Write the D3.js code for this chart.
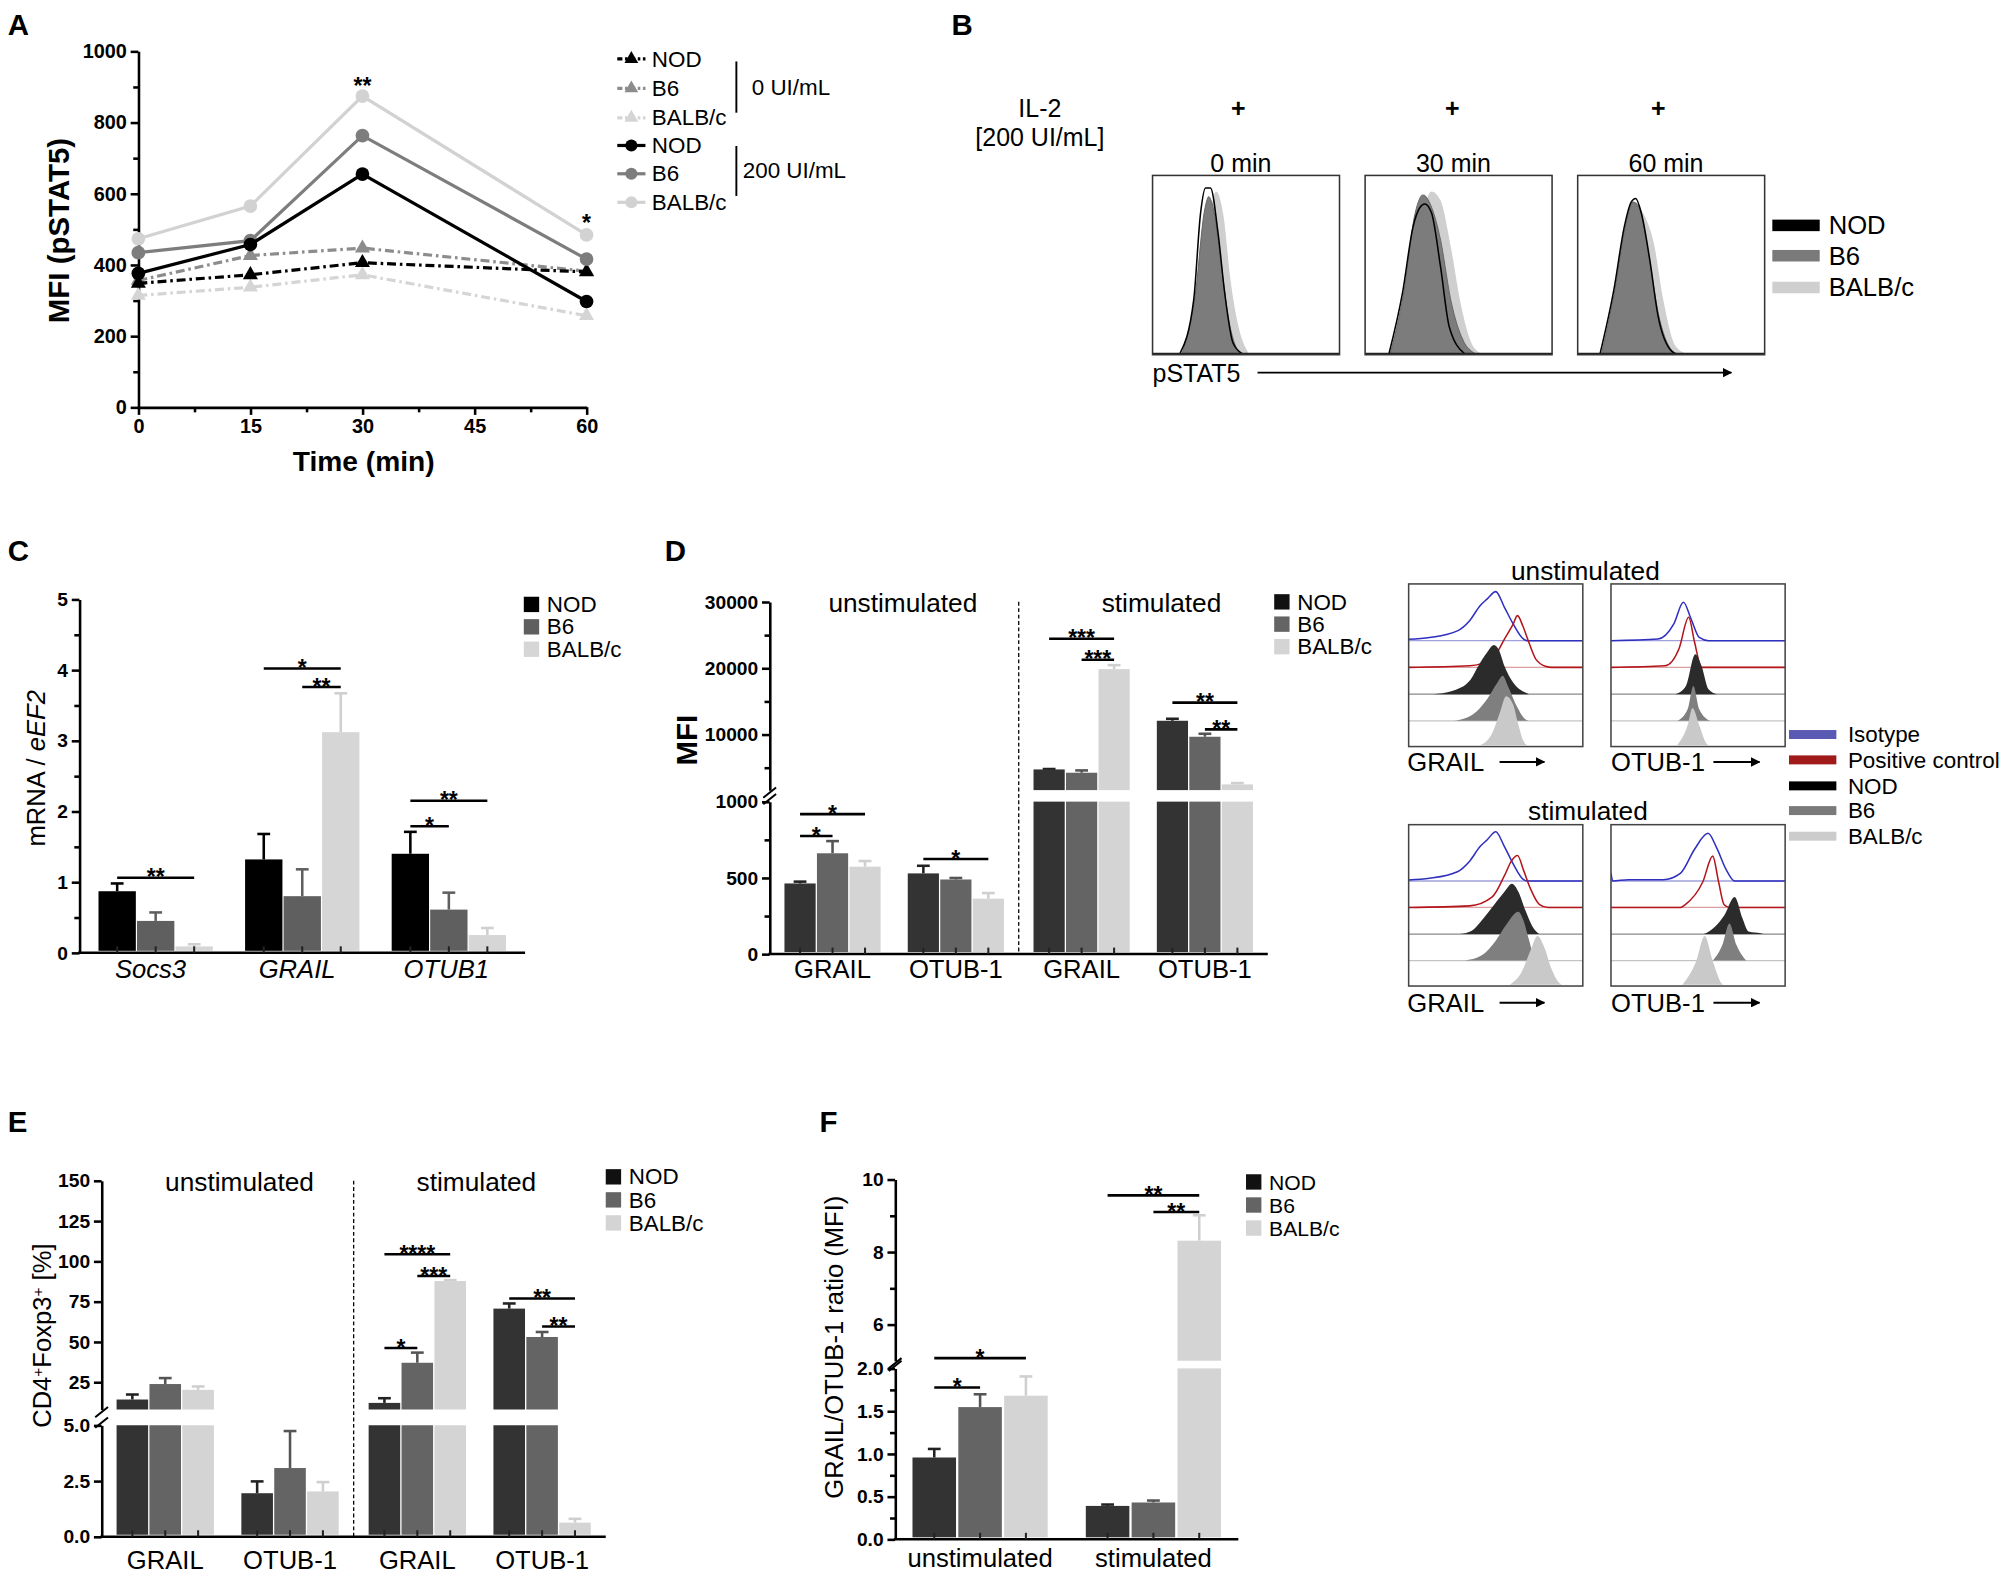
<!DOCTYPE html>
<html>
<head>
<meta charset="utf-8">
<script src="https://cdn.jsdelivr.net/npm/d3@7"></script>
<style>
  body { margin: 0; background: #fff; }
  svg { display: block; font-family: "Liberation Sans", Arial, sans-serif; }
</style>
</head>
<body>
<svg id="fig"></svg>
<script>
// ---------- dati ----------
const strains = ['NOD', 'B6', 'BALB/c'];

// pannello A: MFI pSTAT5 nel tempo
const aTimes = [0, 15, 30, 60];
const aNod0 = [348, 372, 406, 380];
const aB60 = [356, 426, 447, 382];
const aBalb0 = [314, 337, 372, 257];
const aNod200 = [376, 457, 655, 297];
const aB6200 = [434, 468, 763, 416];
const aBalb200 = [473, 565, 874, 484];
const aYTicks = [0, 200, 400, 600, 800, 1000];
const aXTicks = [0, 15, 30, 45, 60];

// pannello B: istogrammi pSTAT5 [canale, conta %]
const bTimes = ['0 min', '30 min', '60 min'];
const bNod0 = [[14.7, 0], [22, 30], [25.7, 79], [28.3, 93], [31, 93], [35, 68], [38.6, 34], [43, 6], [47.8, 0]];
const bB60 = [[15.8, 0], [23, 34], [27.6, 79], [30, 88], [33, 79], [36.8, 49], [40.4, 21], [46, 1], [47, 0]];
const bBalb0 = [[17, 0], [25.7, 40], [30.5, 77], [34, 91], [38, 77], [41.5, 43], [46, 15], [51.5, 0]];
const bNod30 = [[12.8, 0], [20, 34], [25.6, 71], [29.3, 82], [31.9, 84], [35.5, 79], [40.3, 49], [45, 15], [53, 0]];
const bB630 = [[13.5, 0], [21, 36], [26.4, 77], [31, 89], [34.8, 84], [40.3, 64], [45.8, 30], [53, 6], [58.6, 0]];
const bBalb30 = [[15.7, 0], [23.8, 38], [29.3, 71], [35.5, 91], [40.3, 86], [45.8, 60], [51.3, 27], [56.8, 6], [62, 0]];
const bNod60 = [[12, 0], [19.4, 36], [24.9, 71], [28.6, 85], [31, 87], [34, 79], [38.5, 53], [43, 21], [50.5, 1], [52, 0]];
const bB660 = [[12.8, 0], [20, 36], [24.9, 68], [29.7, 85], [33.3, 81], [37.7, 57], [43, 23], [50.5, 1.5], [53, 0]];
const bBalb60 = [[14, 0], [21, 38], [26.7, 70], [31, 83], [35.9, 77], [40.7, 62], [45.8, 30], [52.4, 4], [58, 0]];

// pannello C: mRNA / eEF2
const cGenes = ['Socs3', 'GRAIL', 'OTUB1'];
const cNod = [0.87, 1.32, 1.40];
const cNodErr = [0.11, 0.36, 0.31];
const cB6 = [0.45, 0.80, 0.61];
const cB6Err = [0.12, 0.38, 0.24];
const cBalb = [0.09, 3.12, 0.25];
const cBalbErr = [0.03, 0.55, 0.10];
const cSig = [[0, 0, 2, 1.06, '**'], [1, 0, 2, 4.02, '*'], [1, 1, 2, 3.76, '**'], [2, 0, 2, 2.15, '**'], [2, 0, 1, 1.79, '*']];

// pannello D: MFI (unstim GRAIL, unstim OTUB-1, stim GRAIL, stim OTUB-1)
const conds = ['unstimulated', 'stimulated'];
const markers = ['GRAIL', 'OTUB-1'];
const dNod = [463, 529, 4720, 12060];
const dNodErr = [12, 50, 60, 300];
const dB6 = [661, 489, 4220, 9650];
const dB6Err = [80, 10, 350, 450];
const dBalb = [573, 363, 19850, 2460];
const dBalbErr = [37, 37, 600, 200];
const dSig = [[0, 0, 2, 918, '*'], [0, 0, 1, 774, '*'], [1, 0, 2, 624, '*'], [2, 0, 2, 24440, '***'], [2, 1, 2, 21260, '***'], [3, 0, 2, 14800, '**'], [3, 1, 2, 10760, '**']];

// pannello D destra: istogrammi sovrapposti [canale, altezza in tracce]
const hLegend = ['Isotype', 'Positive control', 'NOD', 'B6', 'BALB/c'];
const hUnGrailIso = [[0, 0.05], [12, 0.12], [28, 0.37], [35, 0.75], [41, 1.31], [45, 1.56], [50, 1.84], [55, 1.25], [60, 0.63], [66, 0.06], [68, 0], [100, 0]];
const hUnGrailPos = [[0, 0], [35, 0.06], [48, 0.31], [55, 1.06], [60, 1.62], [62.5, 1.94], [65.5, 1.56], [69, 0.94], [73, 0.31], [79, 0.03], [82, 0], [100, 0]];
const hUnGrailNod = [[14, 0], [25, 0.12], [35, 0.5], [40, 1.06], [45, 1.56], [49, 1.84], [52, 1.63], [55, 1.06], [60, 0.44], [67, 0.06], [69, 0]];
const hUnGrailB6 = [[26, 0], [37, 0.25], [45, 0.81], [51, 1.44], [54, 1.69], [57, 1.31], [62, 0.56], [67, 0.06], [69, 0]];
const hUnGrailBalb = [[41, 0], [48, 0.46], [52, 1.15], [56, 1.84], [60, 1.53], [63, 0.77], [66, 0.15], [68, 0]];
const hUnOtubIso = [[0, 0], [27, 0.06], [36, 0.62], [41.6, 1.44], [46, 0.81], [50.7, 0.12], [56, 0], [100, 0]];
const hUnOtubPos = [[0, 0], [31, 0.06], [39, 0.69], [44.6, 1.88], [48, 0.94], [52, 0], [100, 0]];
const hUnOtubNod = [[37, 0], [43, 0.31], [48.4, 1.5], [52, 1.06], [56, 0.19], [61, 0]];
const hUnOtubB6 = [[38, 0], [44, 0.44], [47.3, 1.31], [50.7, 0.44], [57, 0]];
const hUnOtubBalb = [[38, 0], [44, 0.75], [46.8, 1.4], [50.7, 0.75], [55, 0.05], [56, 0]];
const hStGrailIso = [[0, 0.04], [12, 0.1], [28, 0.35], [35, 0.75], [41, 1.3], [45, 1.55], [50, 1.86], [55, 1.3], [60, 0.65], [66, 0.05], [68, 0], [100, 0]];
const hStGrailPos = [[0, 0], [35, 0.06], [48, 0.4], [55, 1.2], [59, 1.75], [62.5, 1.96], [66, 1.4], [70, 0.7], [75, 0.12], [80, 0], [100, 0]];
const hStGrailNod = [[29, 0], [36, 0.12], [43, 0.6], [49, 1.1], [55, 1.6], [59.3, 1.9], [63, 1.6], [67, 0.9], [71, 0.3], [75, 0]];
const hStGrailB6 = [[32, 0], [42, 0.2], [50, 0.75], [56, 1.35], [63, 1.84], [66, 1.5], [69, 0.8], [72, 0.15], [74, 0]];
const hStGrailBalb = [[58, 0], [65, 0.5], [70, 1.3], [74, 1.84], [78, 1.4], [82, 0.6], [86, 0.1], [88, 0]];
const hStOtubIso = [[0, 0.3], [1, 0], [10, 0.05], [30, 0.05], [40, 0.3], [48, 1.2], [55.7, 1.8], [60.7, 1.25], [66, 0.45], [71, 0], [100, 0]];
const hStOtubPos = [[0, 0], [40, 0], [42.5, 0.1], [52.7, 0.96], [58.4, 1.94], [61.8, 0.96], [65, 0.1], [68, 0], [100, 0]];
const hStOtubNod = [[53, 0], [55, 0.05], [65, 0.7], [71, 1.4], [75.5, 0.6], [79, 0.1], [86, 0.03], [88, 0]];
const hStOtubB6 = [[58.4, 0], [64, 0.6], [68, 1.4], [72, 0.6], [77.7, 0]];
const hStOtubBalb = [[41, 0], [49, 0.9], [53.8, 1.84], [58.4, 0.9], [64, 0.02], [64.5, 0]];

// pannello E: CD4+Foxp3+ [%]
const eNod = [14.2, 1.95, 12.1, 70.6];
const eNodErr = [3.1, 0.53, 2.9, 3.2];
const eB6 = [23.8, 3.08, 37.0, 53.0];
const eB6Err = [3.7, 1.66, 6.3, 3.1];
const eBalb = [20.2, 2.03, 87.7, 0.63];
const eBalbErr = [2.1, 0.42, 0.6, 0.17];
const eSig = [[2, 0, 2, 104.3, '****'], [2, 1, 2, 90.8, '***'], [2, 0, 1, 46.2, '*'], [3, 0, 2, 76.9, '**'], [3, 1, 2, 59.5, '**']];

// pannello F: rapporto GRAIL/OTUB-1
const fNod = [0.957, 0.39];
const fNodErr = [0.10, 0.016];
const fB6 = [1.547, 0.43];
const fB6Err = [0.15, 0.023];
const fBalb = [1.68, 8.31];
const fBalbErr = [0.226, 0.70];
const fSig = [[0, 0, 2, 2.12, '*'], [0, 0, 1, 1.777, '*'], [1, 0, 2, 9.56, '**'], [1, 1, 2, 9.10, '**']];

// ---------- struttura ----------
const svg = d3.select('#fig')
  .attr('width', 2008)
  .attr('height', 1577)
  .attr('viewBox', '0 0 1568 1231.5');

svg.append('defs').append('marker')
  .attr('id', 'arr')
  .attr('viewBox', '0 0 10 10')
  .attr('refX', 9).attr('refY', 5)
  .attr('markerWidth', 5).attr('markerHeight', 5)
  .attr('orient', 'auto')
  .append('path').attr('d', 'M0,0 L10,5 L0,10 z').attr('fill', '#000');

function text(x, y, s, size, opt) {
  opt = opt || {};
  return svg.append('text')
    .attr('x', x).attr('y', y)
    .attr('text-anchor', opt.anchor || 'start')
    .style('font-size', size + 'px')
    .style('font-weight', opt.bold ? 'bold' : 'normal')
    .style('font-style', opt.italic ? 'italic' : null)
    .attr('fill', opt.fill || '#000')
    .text(s);
}

function styleAxis(g, size) {
  g.attr('font-family', null).attr('font-size', null);
  g.selectAll('.domain').attr('stroke', '#000').attr('stroke-width', 2);
  g.selectAll('.tick line').attr('stroke', '#000').attr('stroke-width', 2);
  g.selectAll('.tick text')
    .style('font-weight', 'bold')
    .style('font-size', (size || 15) + 'px')
    .attr('fill', '#000');
}

// lettere dei pannelli
[['A', 6, 27], ['B', 743, 27], ['C', 6, 438], ['D', 519, 438], ['E', 6, 884], ['F', 640, 884]]
  .forEach(l => text(l[1], l[2], l[0], 23, { bold: true }));

// ----- PANNELLO A -----
const xA = d3.scaleLinear().domain([0, 60]).range([108, 458]);
const yA = d3.scaleLinear().domain([0, 1000]).range([318, 40]);

svg.append('g').attr('transform', 'translate(0,318)')
  .call(d3.axisBottom(xA).tickValues(aXTicks).tickFormat(d3.format('d')).tickSize(6).tickSizeOuter(0))
  .call(g => styleAxis(g, 15.5));
svg.append('g').attr('transform', 'translate(0,318)')
  .call(d3.axisBottom(xA).tickValues([7.5, 22.5, 37.5, 52.5]).tickSize(4).tickFormat(''))
  .call(g => { styleAxis(g); g.select('.domain').remove(); });
svg.append('g').attr('transform', 'translate(108,0)')
  .call(d3.axisLeft(yA).tickValues(aYTicks).tickFormat(d3.format('d')).tickSize(6).tickSizeOuter(0))
  .call(g => styleAxis(g, 15.5));
svg.append('g').attr('transform', 'translate(108,0)')
  .call(d3.axisLeft(yA).tickValues([100, 300, 500, 700, 900]).tickSize(4).tickFormat(''))
  .call(g => { styleAxis(g); g.select('.domain').remove(); });

text(0, 0, 'MFI (pSTAT5)', 23, { bold: true, anchor: 'middle' })
  .attr('transform', 'translate(54,180) rotate(-90)');
text(284, 368, 'Time (min)', 22, { bold: true, anchor: 'middle' });

// stili delle serie (ordine legenda)
const aStyles = [
  { vals: aNod0, color: '#000000', dash: '7,3,2,3', sym: d3.symbolTriangle },
  { vals: aB60, color: '#8c8c8c', dash: '7,3,2,3', sym: d3.symbolTriangle },
  { vals: aBalb0, color: '#d5d5d5', dash: '7,3,2,3', sym: d3.symbolTriangle },
  { vals: aNod200, color: '#000000', dash: null, sym: d3.symbolCircle },
  { vals: aB6200, color: '#7d7d7d', dash: null, sym: d3.symbolCircle },
  { vals: aBalb200, color: '#d2d2d2', dash: null, sym: d3.symbolCircle }
];
const lineA = d3.line().x((d, i) => xA(aTimes[i])).y(d => yA(d));
[2, 1, 0, 5, 4, 3].forEach(k => {
  const s = aStyles[k];
  svg.append('path').datum(s.vals).attr('d', lineA)
    .attr('fill', 'none').attr('stroke', s.color).attr('stroke-width', 2.5)
    .attr('stroke-dasharray', s.dash);
  svg.append('g').selectAll('path').data(s.vals).join('path')
    .attr('transform', (d, i) => `translate(${xA(aTimes[i])},${yA(d)})`)
    .attr('d', d3.symbol(s.sym, s.sym === d3.symbolCircle ? 90 : 60))
    .attr('fill', s.color);
});
// asterischi sopra i punti BALB/c 200 UI/mL
text(xA(30), yA(aBalb200[2]) - 2, '**', 18, { bold: true, anchor: 'middle' });
text(xA(60), yA(aBalb200[3]) - 3, '*', 18, { bold: true, anchor: 'middle' });

// legenda A
const aLegY = [46, 69, 92, 113.6, 135.7, 158];
aStyles.forEach((s, i) => {
  svg.append('line').attr('x1', 482).attr('x2', 504).attr('y1', aLegY[i]).attr('y2', aLegY[i])
    .attr('stroke', s.color).attr('stroke-width', 2.5).attr('stroke-dasharray', s.dash ? '4,2,2,2' : null);
  svg.append('path').attr('transform', `translate(493,${aLegY[i]})`)
    .attr('d', d3.symbol(s.sym, s.sym === d3.symbolCircle ? 70 : 50)).attr('fill', s.color);
  text(509, aLegY[i] + 6, strains[i % 3], 17.5);
});
svg.append('line').attr('x1', 575).attr('x2', 575).attr('y1', 48).attr('y2', 88).attr('stroke', '#000').attr('stroke-width', 1.5);
svg.append('line').attr('x1', 575).attr('x2', 575).attr('y1', 114).attr('y2', 153).attr('stroke', '#000').attr('stroke-width', 1.5);
text(587, 74, '0 UI/mL', 17.5);
text(580, 139, '200 UI/mL', 17.5);

// ----- PANNELLO B -----
text(812, 91, 'IL-2', 19.5, { anchor: 'middle' });
text(812, 114, '[200 UI/mL]', 19.5, { anchor: 'middle' });
const bBoxX = [900, 1066, 1232];
const bPlus = [967, 1134, 1295];
const bCurves = [[bBalb0, bB60, bNod0], [bBalb30, bB630, bNod30], [bBalb60, bB660, bNod60]];
bTimes.forEach((t, i) => {
  const bx = bBoxX[i], by = 137, w = 146, h = 140;
  text(bPlus[i], 91, '+', 19.5, { anchor: 'middle', bold: true });
  text(bx + w / 2 - 4, 134, t, 19.5, { anchor: 'middle' });
  const xs = d3.scaleLinear().domain([0, 100]).range([bx, bx + w]);
  const ys = d3.scaleLinear().domain([0, 100]).range([by + h - 1, by]);
  const area = d3.area().x(d => xs(d[0])).y0(ys(0)).y1(d => ys(d[1])).curve(d3.curveMonotoneX);
  const c = bCurves[i];
  svg.append('path').datum(c[0]).attr('d', area).attr('fill', '#cfcfcf');
  svg.append('path').datum(c[1]).attr('d', area).attr('fill', '#7c7c7c').attr('stroke', '#6a6a6a').attr('stroke-width', 0.8);
  svg.append('path').datum(c[2]).attr('d', area.lineY1()).attr('fill', 'none').attr('stroke', '#000').attr('stroke-width', 1.2);
  svg.append('line').attr('x1', bx).attr('x2', bx + w).attr('y1', ys(0)).attr('y2', ys(0)).attr('stroke', '#222').attr('stroke-width', 1.2);
  svg.append('rect').attr('x', bx).attr('y', by).attr('width', w).attr('height', h)
    .attr('fill', 'none').attr('stroke', '#333').attr('stroke-width', 1.2);
});
text(900, 298, 'pSTAT5', 19.5);
svg.append('line').attr('x1', 982).attr('x2', 1352).attr('y1', 291).attr('y2', 291)
  .attr('stroke', '#000').attr('stroke-width', 1.5).attr('marker-end', 'url(#arr)');
const bLegCol = ['#000000', '#7a7a7a', '#cfcfcf'];
[176, 199.7, 224.5].forEach((y, i) => {
  svg.append('rect').attr('x', 1384).attr('y', y - 4.5).attr('width', 37).attr('height', 9).attr('fill', bLegCol[i]);
  text(1428, y + 7, strains[i], 20);
});

// ----- grafici a barre (C, D, E, F) -----
function barChart(o) {
  const outer = d3.scaleBand().domain(o.conds).range([o.x0, o.x1]).paddingInner(o.oIn).paddingOuter(o.oOut);
  const inner = d3.scaleBand().domain(o.markers).range([0, outer.bandwidth()]).paddingInner(o.iIn).paddingOuter(o.iOut);
  const sb = d3.scaleBand().domain(strains).range([0, inner.bandwidth()]).paddingInner(o.sIn);
  const cells = [];
  o.conds.forEach(c => o.markers.forEach(m => cells.push({ c, m, x: outer(c) + inner(m) })));
  const lower = d3.scaleLinear().domain(o.lowerDom).range(o.lowerRange);
  const upper = o.upperDom ? d3.scaleLinear().domain(o.upperDom).range(o.upperRange) : null;
  const yv = v => (upper && v >= o.upperDom[0]) ? upper(v) : lower(v);
  const base = lower(0) - 1.5;
  const lowTop = o.lowerDom[1];

  // record delle barre
  const recs = [];
  o.series.forEach((s, si) => cells.forEach((cell, ci) => {
    recs.push({ v: s.vals[ci], e: s.errs[ci], x: cell.x + sb(strains[si]), color: s.color, ecolor: s.ecolor });
  }));
  const w = sb.bandwidth();
  const g = svg.append('g');
  // error bar
  g.selectAll('line.err').data(recs).join('line').attr('class', 'err')
    .attr('x1', d => d.x + w / 2).attr('x2', d => d.x + w / 2)
    .attr('y1', d => yv(d.v)).attr('y2', d => yv(d.v + d.e))
    .attr('stroke', d => d.ecolor).attr('stroke-width', 2);
  g.selectAll('line.cap').data(recs).join('line').attr('class', 'cap')
    .attr('x1', d => d.x + w / 2 - o.cap).attr('x2', d => d.x + w / 2 + o.cap)
    .attr('y1', d => yv(d.v + d.e)).attr('y2', d => yv(d.v + d.e))
    .attr('stroke', d => d.ecolor).attr('stroke-width', 2);
  // parte bassa
  g.selectAll('rect.low').data(recs).join('rect').attr('class', 'low')
    .attr('x', d => d.x).attr('width', w)
    .attr('y', d => lower(Math.min(d.v, lowTop)))
    .attr('height', d => base - lower(Math.min(d.v, lowTop)))
    .attr('fill', d => d.color);
  // parte alta
  if (upper) {
    g.selectAll('rect.up').data(recs.filter(d => d.v > lowTop)).join('rect').attr('class', 'up')
      .attr('x', d => d.x).attr('width', w)
      .attr('y', d => upper(d.v))
      .attr('height', d => upper(o.upperDom[0]) - upper(d.v))
      .attr('fill', d => d.color);
  }

  // assi
  svg.append('g').attr('transform', `translate(${o.x0},0)`)
    .call(d3.axisLeft(lower).tickValues(o.lowerTicks).tickFormat(o.fmt).tickSize(6).tickSizeOuter(0))
    .call(g => styleAxis(g, 15));
  if (o.lowerMinor) {
    svg.append('g').attr('transform', `translate(${o.x0},0)`)
      .call(d3.axisLeft(lower).tickValues(o.lowerMinor).tickFormat('').tickSize(4))
      .call(g => { styleAxis(g); g.select('.domain').remove(); });
  }
  if (upper) {
    svg.append('g').attr('transform', `translate(${o.x0},0)`)
      .call(d3.axisLeft(upper).tickValues(o.upperTicks).tickFormat(o.fmtU || o.fmt).tickSize(6).tickSizeOuter(0))
      .call(g => styleAxis(g, 15));
    if (o.upperMinor) {
      svg.append('g').attr('transform', `translate(${o.x0},0)`)
        .call(d3.axisLeft(upper).tickValues(o.upperMinor).tickFormat('').tickSize(4))
        .call(g => { styleAxis(g); g.select('.domain').remove(); });
    }
    // segni di interruzione
    const yl = lower(lowTop), yu = upper(o.upperDom[0]);
    [yl + 1, yu + 5].forEach(y => {
      svg.append('line').attr('x1', o.x0 - 5).attr('x2', o.x0 + 5).attr('y1', y + 1).attr('y2', y - 7)
        .attr('stroke', '#000').attr('stroke-width', 1.6);
    });
  }
  svg.append('line').attr('x1', o.x0 - 1).attr('x2', o.x1).attr('y1', lower(0)).attr('y2', lower(0))
    .attr('stroke', '#000').attr('stroke-width', 2);
  svg.append('g').selectAll('line').data(recs).join('line')
    .attr('x1', d => d.x + w / 2).attr('x2', d => d.x + w / 2)
    .attr('y1', lower(0)).attr('y2', lower(0) - 5)
    .attr('stroke', '#222').attr('stroke-width', 1.6);

  // divisore tratteggiato
  if (o.divider) {
    const xd = outer(o.conds[1]);
    svg.append('line').attr('x1', xd).attr('x2', xd).attr('y1', o.divider).attr('y2', lower(0))
      .attr('stroke', '#000').attr('stroke-width', 1).attr('stroke-dasharray', '3,2');
  }
  // titoli delle condizioni
  if (o.condTitles) {
    o.conds.forEach((c, i) => text(o.condTitles[i], o.condTitleY, c, 20.5, { anchor: 'middle' }));
  }
  // etichette asse x
  cells.forEach((cell, ci) => {
    const lab = o.labelOf(cell);
    text(cell.x + inner.bandwidth() / 2 + (o.labDx ? o.labDx[ci] : 0), o.labelY, lab, 20,
      { anchor: 'middle', italic: o.italic });
  });
  // significatività
  o.sig.forEach(s => {
    const cell = cells[s[0]];
    const xa = cell.x + sb(strains[s[1]]) + w / 2, xb = cell.x + sb(strains[s[2]]) + w / 2;
    const y = yv(s[3]);
    svg.append('line').attr('x1', xa).attr('x2', xb).attr('y1', y).attr('y2', y)
      .attr('stroke', '#000').attr('stroke-width', 2);
    text((xa + xb) / 2, y + 6, s[4], 18, { anchor: 'middle', bold: true });
  });
  // legenda
  o.series.forEach((s, i) => {
    const y = o.legY[i];
    svg.append('rect').attr('x', o.legX).attr('y', y - 6).attr('width', 12).attr('height', 12).attr('fill', s.lcolor || s.color);
    text(o.legX + 18, y + 6, strains[i], o.legSize || 17.5);
  });
}

const darkCols = { nod: '#333333', b6: '#646464', balb: '#d4d4d4' };

// ----- PANNELLO C -----
barChart({
  x0: 62, x1: 410, conds: cGenes, markers: [''],
  oIn: 0.22, oOut: 0.13, iIn: 0, iOut: 0, sIn: 0.03, cap: 5,
  lowerDom: [0, 5], lowerRange: [744, 468], lowerTicks: [0, 1, 2, 3, 4, 5],
  lowerMinor: [0.5, 1.5, 2.5, 3.5, 4.5], fmt: d3.format('d'),
  series: [
    { vals: cNod, errs: cNodErr, color: '#000000', ecolor: '#000000' },
    { vals: cB6, errs: cB6Err, color: '#5f5f5f', ecolor: '#5f5f5f' },
    { vals: cBalb, errs: cBalbErr, color: '#d6d6d6', ecolor: '#d0d0d0' }
  ],
  labelOf: cell => cell.c, labelY: 764, italic: true, labDx: [-4, -4, -2],
  sig: cSig, legX: 409, legY: [472, 489.5, 507]
});
svg.append('text').attr('transform', 'translate(35,600) rotate(-90)').attr('text-anchor', 'middle')
  .style('font-size', '20px')
  .call(t => { t.append('tspan').text('mRNA / '); t.append('tspan').style('font-style', 'italic').text('eEF2'); });

// ----- PANNELLO D (barre) -----
barChart({
  x0: 601, x1: 990, conds: conds, markers: markers,
  oIn: 0, oOut: 0, iIn: 0.22, iOut: 0.12, sIn: 0.04, cap: 5,
  lowerDom: [0, 1000], lowerRange: [745, 626], lowerTicks: [0, 500, 1000], lowerMinor: [250, 750],
  upperDom: [1600, 30000], upperRange: [617, 470], upperTicks: [10000, 20000, 30000],
  upperMinor: [5000, 15000, 25000], fmt: d3.format('d'),
  series: [
    { vals: dNod, errs: dNodErr, color: darkCols.nod, ecolor: '#222', lcolor: '#111' },
    { vals: dB6, errs: dB6Err, color: darkCols.b6, ecolor: '#555' },
    { vals: dBalb, errs: dBalbErr, color: darkCols.balb, ecolor: '#cfcfcf' }
  ],
  divider: 470, condTitles: [705, 907], condTitleY: 478,
  labelOf: cell => cell.m, labelY: 764,
  sig: dSig, legX: 995, legY: [470, 487.4, 505]
});
text(0, 0, 'MFI', 23, { bold: true, anchor: 'middle' }).attr('transform', 'translate(544,578) rotate(-90)');

// ----- PANNELLO D (istogrammi) -----
const hBoxes = [
  { x: 1100, y: 456, h: 127, s: [hUnGrailIso, hUnGrailPos, hUnGrailNod, hUnGrailB6, hUnGrailBalb] },
  { x: 1258, y: 456, h: 127, s: [hUnOtubIso, hUnOtubPos, hUnOtubNod, hUnOtubB6, hUnOtubBalb] },
  { x: 1100, y: 644, h: 126, s: [hStGrailIso, hStGrailPos, hStGrailNod, hStGrailB6, hStGrailBalb] },
  { x: 1258, y: 644, h: 126, s: [hStOtubIso, hStOtubPos, hStOtubNod, hStOtubB6, hStOtubBalb] }
];
const hStroke = ['#2f2fc0', '#b3161b', null, null, null];
const hFill = [null, null, '#2b2b2b', '#7f7f7f', '#c9c9c9'];
const hBase = ['#a0a0dc', '#dca0a0', '#8a8a8a', '#c4c4c4', null];
const trackF = [0.349, 0.513, 0.678, 0.842, 1.0];
hBoxes.forEach(b => {
  const w = 136;
  const xs = d3.scaleLinear().domain([0, 100]).range([b.x, b.x + w]);
  const unit = 0.164 * b.h;
  const clip = 'clip' + b.x + '_' + b.y;
  svg.append('clipPath').attr('id', clip).append('rect').attr('x', b.x).attr('y', b.y).attr('width', w).attr('height', b.h);
  const g = svg.append('g').attr('clip-path', `url(#${clip})`);
  b.s.forEach((pts, k) => {
    const y0 = b.y + trackF[k] * b.h - (k === 4 ? 1 : 0);
    if (hBase[k]) {
      g.append('line').attr('x1', b.x).attr('x2', b.x + w).attr('y1', y0).attr('y2', y0)
        .attr('stroke', hBase[k]).attr('stroke-width', 1);
    }
    const area = d3.area().x(d => xs(d[0])).y0(y0).y1(d => y0 - d[1] * unit).curve(d3.curveMonotoneX);
    if (hFill[k]) {
      g.append('path').datum(pts).attr('d', area).attr('fill', hFill[k]);
    } else {
      g.append('path').datum(pts).attr('d', area.lineY1()).attr('fill', 'none')
        .attr('stroke', hStroke[k]).attr('stroke-width', 1.2);
    }
  });
  svg.append('rect').attr('x', b.x).attr('y', b.y).attr('width', w).attr('height', b.h)
    .attr('fill', 'none').attr('stroke', '#444').attr('stroke-width', 1.2);
});
text(1238, 453, 'unstimulated', 20.5, { anchor: 'middle' });
text(1240, 640, 'stimulated', 20.5, { anchor: 'middle' });
[[1099, 602, 'GRAIL', 1171, 1206], [1258, 602, 'OTUB-1', 1338, 1374],
 [1099, 790, 'GRAIL', 1171, 1206], [1258, 790, 'OTUB-1', 1338, 1374]].forEach(l => {
  text(l[0], l[1], l[2], 20);
  svg.append('line').attr('x1', l[3]).attr('x2', l[4]).attr('y1', l[1] - 7).attr('y2', l[1] - 7)
    .attr('stroke', '#000').attr('stroke-width', 1.5).attr('marker-end', 'url(#arr)');
});
const hLegCol = ['#5a5ab4', '#a01a1a', '#000000', '#7a7a7a', '#cccccc'];
[573.6, 593.4, 613.7, 633, 653].forEach((y, i) => {
  svg.append('rect').attr('x', 1397).attr('y', y - 3.5).attr('width', 37).attr('height', 7).attr('fill', hLegCol[i]);
  text(1443, y + 6, hLegend[i], 17.5);
});

// ----- PANNELLO E -----
barChart({
  x0: 79.3, x1: 473, conds: conds, markers: markers,
  oIn: 0, oOut: 0, iIn: 0.22, iOut: 0.12, sIn: 0.04, cap: 5,
  lowerDom: [0, 5], lowerRange: [1200, 1113], lowerTicks: [0, 2.5, 5], fmt: d3.format('.1f'),
  upperDom: [8, 150], upperRange: [1100.7, 922], upperTicks: [25, 50, 75, 100, 125, 150], fmtU: d3.format('d'),
  series: [
    { vals: eNod, errs: eNodErr, color: darkCols.nod, ecolor: '#222', lcolor: '#111' },
    { vals: eB6, errs: eB6Err, color: darkCols.b6, ecolor: '#555' },
    { vals: eBalb, errs: eBalbErr, color: darkCols.balb, ecolor: '#cfcfcf' }
  ],
  divider: 922, condTitles: [187, 372], condTitleY: 930,
  labelOf: cell => cell.m, labelY: 1225,
  sig: eSig, legX: 473, legY: [919, 937, 955]
});
svg.append('text').attr('transform', 'translate(40,1043) rotate(-90)').attr('text-anchor', 'middle')
  .style('font-size', '20px')
  .call(t => {
    t.append('tspan').text('CD4');
    t.append('tspan').attr('baseline-shift', 'super').style('font-size', '12px').text('+');
    t.append('tspan').text('Foxp3');
    t.append('tspan').attr('baseline-shift', 'super').style('font-size', '12px').text('+');
    t.append('tspan').text(' [%]');
  });

// ----- PANNELLO F -----
barChart({
  x0: 699, x1: 967, conds: conds, markers: [''],
  oIn: 0.22, oOut: 0.1, iIn: 0, iOut: 0, sIn: 0.05, cap: 5,
  lowerDom: [0, 2], lowerRange: [1202, 1068.6], lowerTicks: [0, 0.5, 1, 1.5, 2],
  lowerMinor: [0.25, 0.75, 1.25, 1.75], fmt: d3.format('.1f'),
  upperDom: [5, 10], upperRange: [1062.6, 921], upperTicks: [6, 8, 10], upperMinor: [7, 9], fmtU: d3.format('d'),
  series: [
    { vals: fNod, errs: fNodErr, color: darkCols.nod, ecolor: '#222', lcolor: '#111' },
    { vals: fB6, errs: fB6Err, color: darkCols.b6, ecolor: '#555' },
    { vals: fBalb, errs: fBalbErr, color: darkCols.balb, ecolor: '#cfcfcf' }
  ],
  labelOf: cell => cell.c, labelY: 1224,
  sig: fSig, legX: 973, legY: [923, 941, 959], legSize: 16.5
});
text(0, 0, 'GRAIL/OTUB-1 ratio (MFI)', 20, { anchor: 'middle' }).attr('transform', 'translate(658,1052) rotate(-90)');
</script>
</body>
</html>
